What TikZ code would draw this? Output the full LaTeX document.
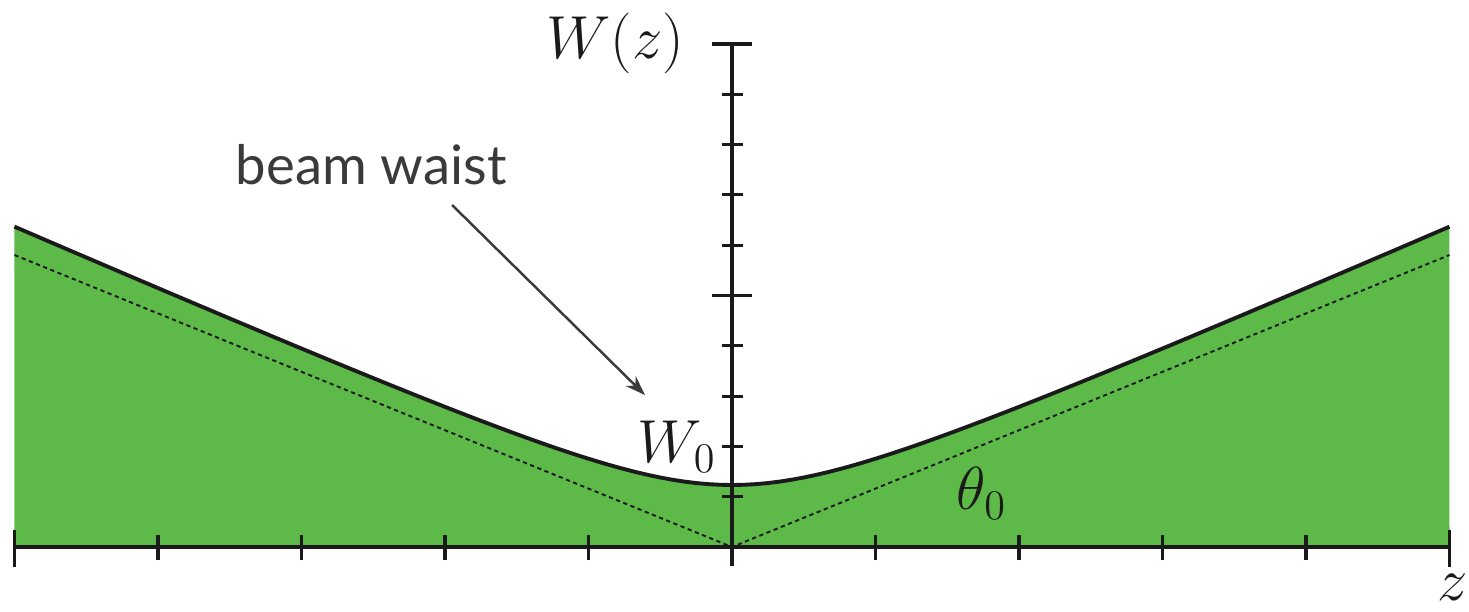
\documentclass[tikz,border=0pt]{standalone}
\usepackage{fontspec}
\usepackage{tikz}
\usetikzlibrary{arrows.meta,positioning}
\newfontfamily\waistfont{Lato}
\definecolor{beamgreen}{HTML}{5DB948}
\definecolor{ink}{HTML}{1A1A1A}
\definecolor{inkgray}{HTML}{3A3A3A}
\tikzset{
  axisline/.style={draw=ink,line width=0.9pt},
  tickmark/.style={draw=ink,line width=0.9pt},
  beamedge/.style={draw=ink,line width=1.1pt},
  asymline/.style={draw=ink,line width=0.55pt,dash pattern=on 1.2pt off 1pt},
  mathlabel/.style={font=\fontsize{16.5}{20}\selectfont,text=ink,inner sep=0pt},
  notelabel/.style={font=\waistfont\fontsize{15.5}{18}\selectfont,text=inkgray,inner sep=0pt},
  waistarr/.style={-{Stealth[length=2mm,width=1.4mm]},line width=0.7pt,color=inkgray}
}

\begin{document}
\begin{tikzpicture}[x=1.435cm,y=0.503cm]
  \useasboundingbox (-7.32cm,-0.65cm) rectangle (7.37cm,5.47cm);
  % beam profile
  \fill[beamgreen] (-5,0) -- plot[domain=-5:5,samples=121] (\x,{sqrt(1.2326^2+(1.2495*\x)^2)}) -- (5,0) -- cycle;
  \draw[beamedge] plot[domain=-5:5,samples=121] (\x,{sqrt(1.2326^2+(1.2495*\x)^2)});
  \draw[asymline] (-5,5.805) -- (0,0) -- (5,5.805);

  % axes
  \draw[axisline] (-5,0) -- (5,0);
  \draw[axisline] ([yshift=-0.19cm]0,0) -- (0,10);
  \foreach \k in {-4,...,-1,1,2,3,4}
    \draw[tickmark] ([yshift=-0.13cm]\k,0) -- ([yshift=0.12cm]\k,0);
  \foreach \k in {-5,5}
    \draw[tickmark] ([yshift=-0.2cm]\k,0) -- ([yshift=0.17cm]\k,0);
  \foreach \k in {1,2,3,4,6,7,8,9}
    \draw[tickmark] ([xshift=-0.1cm]0,\k) -- ([xshift=0.11cm]0,\k);
  \foreach \k in {5,10}
    \draw[tickmark] ([xshift=-0.2cm]0,\k) -- ([xshift=0.2cm]0,\k);

  % labels
  \node[mathlabel,anchor=base west] (zlabel) at ([yshift=-0.54cm]4.91,0) {$z$};
  \node[mathlabel,anchor=east] (Wz) at ([xshift=-0.47cm,yshift=0.01cm]0,10) {$W(z)$};
  \node[mathlabel,anchor=base east] (W0) at ([xshift=-0.15cm]0,1.67) {$W_0$};
  \node[mathlabel,anchor=base west] (theta) at (1.56,0.736) {$\theta_0$};
  \node[notelabel,anchor=base west] (waist) at (-3.463,7.197) {beam waist};
  \coordinate (waisttip) at (-0.606,3.02);
  \draw[waistarr] ([xshift=2.17cm,yshift=-0.2cm]waist.base west) -- (waisttip);
\end{tikzpicture}
\end{document}
